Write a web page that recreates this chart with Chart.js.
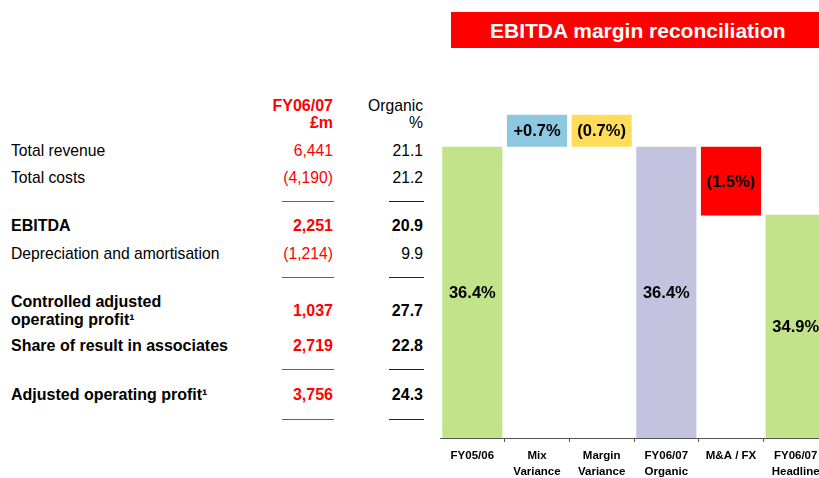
<!DOCTYPE html>
<html>
<head>
<meta charset="utf-8">
<script src="https://cdn.jsdelivr.net/npm/chart.js@4"></script>
<style>
  html, body { margin:0; padding:0; background:#fff; }
  body { width:819px; height:478px; overflow:hidden; position:relative; font-family:"Liberation Sans", Arial, sans-serif; }
  .t { position:absolute; white-space:nowrap; line-height:20px; height:20px; font-size:15.7px; color:#000; }
  .b { font-weight:bold; font-size:16px; }
  .red { color:#ff0000; }
  .r { text-align:right; }
  .rule { position:absolute; height:1px; }
  #title { position:absolute; left:451px; top:12px; width:380px; height:36px; background:#ff0000; }
  #title span { position:absolute; left:39px; top:0; line-height:37px; color:#fff; font-weight:bold; font-size:21px; white-space:nowrap; }
  #chartBox { position:absolute; left:440px; top:78px; width:388px; height:400px; }
</style>
</head>
<body>
<div id="title"><span>EBITDA margin reconciliation</span></div>
<div id="table"></div>
<div id="chartBox"><canvas id="chart" width="388" height="400"></canvas></div>

<script>
// Waterfall data
const categories = [['FY05/06'], ['Mix', 'Variance'], ['Margin', 'Variance'], ['FY06/07', 'Organic'], ['M&A / FX'], ['FY06/07', 'Headline']];
const barLabels = ['36.4%', '+0.7%', '(0.7%)', '36.4%', '(1.5%)', '34.9%'];
// the slide draws the steps not to scale, so bar extents are read off the picture
const barLow = [0, 36.4, 36.4, 0, 27.8, 0];
const barHigh = [36.4, 40.4, 40.4, 36.4, 36.4, 27.9];
const barColors = ['#c3e38b', '#8cc8e0', '#ffdc5a', '#c3c3e0', '#ff0000', '#c3e38b'];

// Table data
const tableLabels = ['Total revenue', 'Total costs', 'EBITDA', 'Depreciation and amortisation', 'Controlled adjusted<br>operating profit¹', 'Share of result in associates', 'Adjusted operating profit¹'];
const tableFY = ['6,441', '(4,190)', '2,251', '(1,214)', '1,037', '2,719', '3,756'];
const tableOrganic = ['21.1', '21.2', '20.9', '9.9', '27.7', '22.8', '24.3'];
const tableBold = [false, false, true, false, true, true, true];

// layout for the table
const rowY = [150.7, 178, 226, 254, 310.7, 346, 395];
const ruleY = [201, 277, 369, 419];

function put(html, cls, x, yc, right){
  const d = document.createElement('div');
  d.className = 't ' + cls;
  d.innerHTML = html;
  d.style.top = (yc - 10) + 'px';
  if (right) { d.style.right = (819 - x) + 'px'; d.classList.add('r'); }
  else d.style.left = x + 'px';
  document.getElementById('table').appendChild(d);
  return d;
}

put('FY06/07', 'b red', 333, 105.7, true);
put('£m', 'b red', 333, 123, true);
put('Organic', '', 423, 105.7, true);
put('%', '', 423, 123, true);

tableLabels.forEach((lab, i) => {
  const b = tableBold[i] ? 'b' : '';
  const d = put(lab, b, 11, rowY[i], false);
  if (lab.includes('<br>')) { d.style.lineHeight = '17.6px'; d.style.height = '35.2px'; d.style.top = (rowY[i] - 17.6) + 'px'; }
  put(tableFY[i], b + ' red', 333, rowY[i], true);
  put(tableOrganic[i], b, 423, rowY[i], true);
});

ruleY.forEach(y => {
  const r1 = document.createElement('div');
  r1.className = 'rule';
  r1.style.cssText = `left:282px;width:52px;top:${y}px;background:#ff2020;`;
  const r2 = document.createElement('div');
  r2.className = 'rule';
  r2.style.cssText = `left:389px;width:35px;top:${y}px;background:#222;`;
  document.body.appendChild(r1);
  document.body.appendChild(r2);
});

// Labels in the middle of each bar
const barText = {
  id: 'barText',
  afterDatasetsDraw(chart){
    const ctx = chart.ctx;
    ctx.save();
    ctx.font = 'bold 16.5px "Liberation Sans", Arial, sans-serif';
    ctx.fillStyle = '#000';
    ctx.textAlign = 'center';
    ctx.textBaseline = 'middle';
    chart.getDatasetMeta(0).data.forEach((bar, i) => {
      ctx.fillText(barLabels[i], bar.x, (bar.y + bar.base) / 2 + 1);
    });
    ctx.restore();
  }
};

new Chart(document.getElementById('chart').getContext('2d'), {
  type: 'bar',
  data: {
    labels: categories,
    datasets: [{
      data: barLow.map((lo, i) => [lo, barHigh[i]]),
      backgroundColor: barColors,
      borderWidth: 0,
      barPercentage: 0.93,
      categoryPercentage: 1.0
    }]
  },
  options: {
    responsive: false,
    animation: false,
    layout: { padding: 0 },
    plugins: { legend: { display: false }, tooltip: { enabled: false } },
    scales: {
      y: { display: false, min: 0, max: 45 },
      x: {
        afterFit(scale){ scale.height = 40; },
        grid: { display: true, drawOnChartArea: false, drawTicks: true, tickLength: 4, offset: true, color: '#555' },
        border: { display: true, color: '#555', width: 1 },
        ticks: {
          padding: 5,
          color: '#000',
          maxRotation: 0,
          autoSkip: false,
          font: { family: '"Liberation Sans", Arial, sans-serif', size: 11.5, weight: 'bold', lineHeight: 1.45 }
        }
      }
    }
  },
  plugins: [barText]
});
</script>
</body>
</html>
